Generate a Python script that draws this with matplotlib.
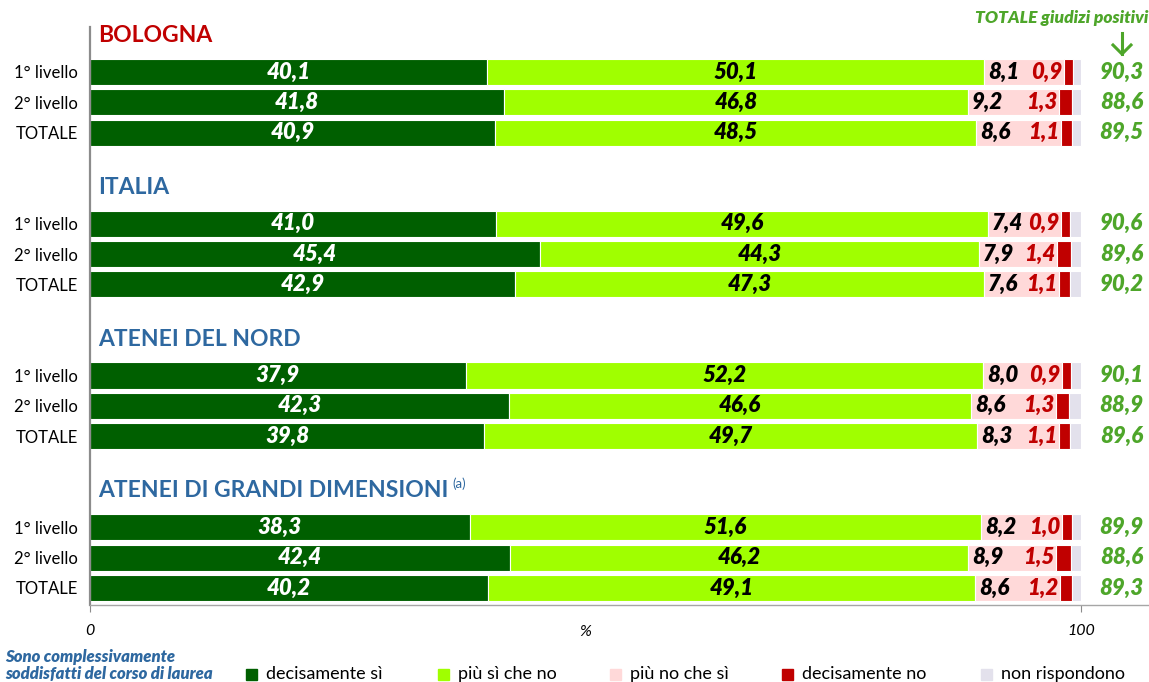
import matplotlib
matplotlib.use("Agg")
import matplotlib.pyplot as plt
from matplotlib.patches import Rectangle
import numpy as np

plt.rcParams['font.family'] = ['Lato', 'DejaVu Sans']

groups = ["BOLOGNA", "ITALIA", "ATENEI DEL NORD", "ATENEI DI GRANDI DIMENSIONI"]
rows = ["1° livello", "2° livello", "TOTALE"]

decisamente_si = [40.1, 41.8, 40.9, 41.0, 45.4, 42.9, 37.9, 42.3, 39.8, 38.3, 42.4, 40.2]
piu_si = [50.1, 46.8, 48.5, 49.6, 44.3, 47.3, 52.2, 46.6, 49.7, 51.6, 46.2, 49.1]
piu_no = [8.1, 9.2, 8.6, 7.4, 7.9, 7.6, 8.0, 8.6, 8.3, 8.2, 8.9, 8.6]
decisamente_no = [0.9, 1.3, 1.1, 0.9, 1.4, 1.1, 0.9, 1.3, 1.1, 1.0, 1.5, 1.2]
non_rispondono = [0.8, 0.9, 0.9, 1.1, 1.0, 1.1, 1.0, 1.2, 1.1, 0.9, 1.0, 0.9]
totale_positivi = [90.3, 88.6, 89.5, 90.6, 89.6, 90.2, 90.1, 88.9, 89.6, 89.9, 88.6, 89.3]

series_names = ["decisamente sì", "più sì che no", "più no che sì", "decisamente no", "non rispondono"]
colors = ["#005F00", "#A0FF00", "#FFD9D9", "#C00000", "#E3E1EC"]

W, H = 1149, 682
fig = plt.figure(figsize=(W / 100, H / 100), dpi=100)
ax = fig.add_axes([90 / W, 1 - 605 / H, 1 - 90 / W, (605 - 27) / H])

# slot positions: each group has header slot + 3 bars + spacer
ypos = []
for g in range(len(groups)):
    for i in range(3):
        ypos.append(g * 5 + 1 + i)
ypos = np.array(ypos, dtype=float)

data = [decisamente_si, piu_si, piu_no, decisamente_no, non_rispondono]
left = np.zeros(len(ypos))
for vals, col, name in zip(data, colors, series_names):
    ax.barh(ypos, vals, left=left, height=0.86, color=col, edgecolor='white',
            linewidth=0.8, label=name)
    left = left + np.array(vals)

def fmt(v):
    return f"{v:.1f}".replace('.', ',')

vfs = 16
for k, y in enumerate(ypos):
    ds, ps, pn, dn = decisamente_si[k], piu_si[k], piu_no[k], decisamente_no[k]
    ax.text(ds / 2, y, fmt(ds), ha='center', va='center', color='white',
            fontsize=vfs, fontweight='heavy', fontstyle='italic')
    ax.text(ds + ps / 2, y, fmt(ps), ha='center', va='center', color='black',
            fontsize=vfs, fontweight='heavy', fontstyle='italic')
    ax.text(ds + ps + 0.4, y, fmt(pn), ha='left', va='center', color='black',
            fontsize=vfs, fontweight='heavy', fontstyle='italic')
    ax.text(ds + ps + pn - 0.2, y, fmt(dn), ha='right', va='center', color='#C00000',
            fontsize=vfs, fontweight='heavy', fontstyle='italic')
    ax.text(104.1, y, fmt(totale_positivi[k]), ha='center', va='center', color='#4EA62A',
            fontsize=vfs, fontweight='heavy', fontstyle='italic')

header_colors = ["#C00000", "#2E68A0", "#2E68A0", "#2E68A0"]
for g, name in enumerate(groups):
    t = ax.text(0.8, g * 5 - 0.2, name, ha='left', va='center', color=header_colors[g],
                fontsize=16.5, fontweight='bold')
    if g == 3:
        ax.annotate("(a)", xy=(1, 0.5), xycoords=t, xytext=(3, 5), textcoords='offset points',
                    ha='left', va='center', fontsize=9.5, color='#2E68A0')

ax.set_xlim(0, (W - 90) / 9.91)
ax.set_ylim(18.56, -0.48)

ax.set_yticks(ypos)
ax.set_yticklabels(rows * len(groups), fontsize=12)
ax.tick_params(axis='y', length=0, pad=8.5)
ax.set_xticks([0, 100])
ax.set_xticklabels(["0", "100"], fontsize=11.5, fontstyle='italic')
ax.tick_params(axis='x', length=5, color='#8C8C8C', pad=9)

for s in ['top', 'right']:
    ax.spines[s].set_visible(False)
ax.spines['left'].set_color('#8C8C8C')
ax.spines['left'].set_linewidth(1.6)
ax.spines['bottom'].set_color('#A6A6A6')
ax.spines['bottom'].set_linewidth(1.0)

fig.text(585 / W, 1 - 632 / H, "%", ha='center', va='center', fontsize=11.5, fontstyle='italic')

# header for totals column
fig.text(1148 / W, 1 - 18 / H, "TOTALE giudizi positivi", ha='right', va='center',
         fontsize=12.5, fontweight='heavy', fontstyle='italic', color='#4EA62A')
fig.add_artist(plt.Line2D([1122 / W, 1122 / W], [1 - 33 / H, 1 - 54 / H], color='#4EA62A', lw=2.2))
fig.add_artist(plt.Line2D([1113 / W, 1122 / W, 1131 / W], [1 - 45 / H, 1 - 54 / H, 1 - 45 / H],
                          color='#4EA62A', lw=2.2))

# legend
fig.text(5 / W, 1 - 657 / H, "Sono complessivamente", ha='left', va='center', fontsize=12,
         fontweight='heavy', fontstyle='italic', color='#2E68A0')
fig.text(5 / W, 1 - 674 / H, "soddisfatti del corso di laurea", ha='left', va='center',
         fontsize=12, fontweight='heavy', fontstyle='italic', color='#2E68A0')
sq_x = [246, 438, 610, 782, 981]
for x, col, name in zip(sq_x, colors, series_names):
    fig.add_artist(Rectangle((x / W, 1 - 680 / H), 11 / W, 11 / H, color=col,
                             transform=fig.transFigure))
    fig.text((x + 20) / W, 1 - 674 / H, name, ha='left', va='center', fontsize=13)

fig.savefig("out.png", dpi=100)
